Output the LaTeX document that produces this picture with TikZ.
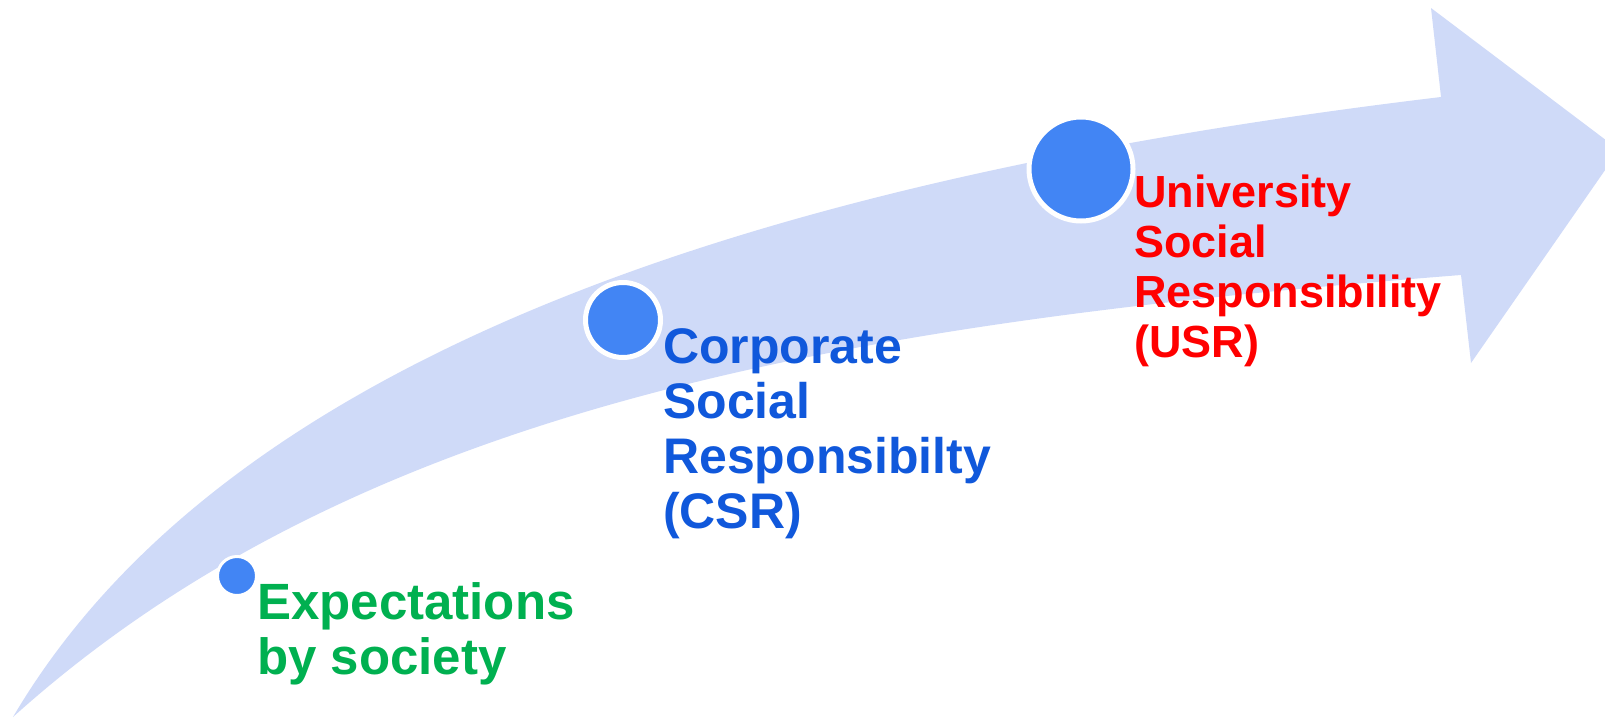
\documentclass[tikz,border=0pt]{standalone}
\usepackage{fontspec}
\setmainfont{Liberation Sans}
\definecolor{bandblue}{HTML}{CFDAF8}
\definecolor{dotblue}{HTML}{4285F4}
\definecolor{expgreen}{HTML}{00B050}
\definecolor{csrblue}{HTML}{1058DB}
\definecolor{usrred}{HTML}{FF0000}
\begin{document}
\begin{tikzpicture}[x=1pt,y=-1pt,
  dot/.style={circle, fill=dotblue, draw=white, inner sep=0pt},
  stage/.style={align=left, inner sep=0pt, anchor=base west},
  bigtext/.style={font=\fontsize{50}{55}\selectfont\bfseries},
  smalltext/.style={font=\fontsize{45}{50}\selectfont\bfseries}]
\useasboundingbox (0,0) rectangle (1605,718);

% curved block arrow
\begin{scope}
  \clip (0,0) rectangle (1605,718);
  \fill[bandblue]
    (13,717) .. controls (243,326) and (841,169) .. (1441,97)
    -- (1431,8) -- (1619,150) -- (1471,363) -- (1461,275)
    .. controls (861,322) and (363,402) .. (13,717)
    -- cycle;
\end{scope}

% milestones
\node[dot, minimum size=39pt, line width=3pt] (dExp) at (237,576) {};
\node[dot, minimum size=75pt, line width=5pt] (dCSR) at (623,320) {};
\node[dot, minimum size=104pt, line width=5pt] (dUSR) at (1081,169) {};

% labels (anchored at the baseline of their last line)
\node[stage, font=\fontsize{51}{55}\selectfont\bfseries, text=expgreen] (tExp) at (257,674) {Expectations\\by society};
\node[stage, bigtext, text=csrblue] (tCSR) at (663,528) {Corporate\\Social\\Responsibilty\\(CSR)};
\node[stage, smalltext, text=usrred] (tUSR) at (1134,357) {University\\Social\\Responsibility\\(USR)};
\end{tikzpicture}
\end{document}
